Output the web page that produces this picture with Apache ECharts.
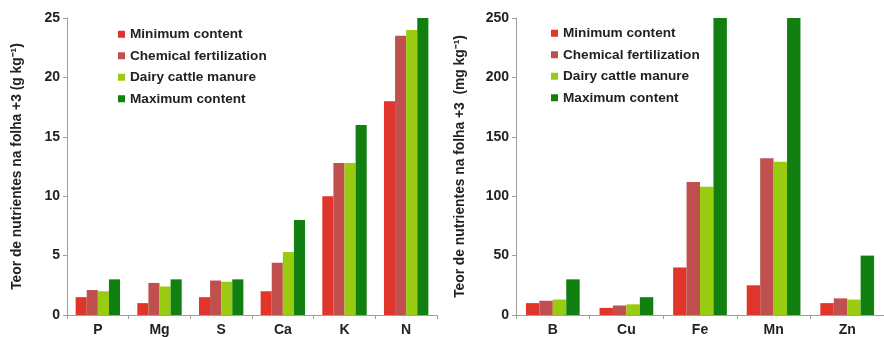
<!DOCTYPE html>
<html><head><meta charset="utf-8">
<script src="https://cdn.jsdelivr.net/npm/echarts@6/dist/echarts.min.js"></script>
<style>html,body{margin:0;padding:0;background:#fff}#c{width:884px;height:337px}</style>
</head><body><div id="c"></div>
<script>
var seriesNames = ['Minimum content','Chemical fertilization','Dairy cattle manure','Maximum content'];
var colors = ['#E0352A','#C0504D','#99CC11','#118011'];

var macroCats = ['P','Mg','S','Ca','K','N'];
var macroMin  = [1.5, 1.0, 1.5, 2.0, 10.0, 18.0];
var macroChem = [2.1, 2.7, 2.9, 4.4, 12.8, 23.5];
var macroDairy= [2.0, 2.4, 2.8, 5.3, 12.8, 24.0];
var macroMax  = [3.0, 3.0, 3.0, 8.0, 16.0, 25.0];

var microCats = ['B','Cu','Fe','Mn','Zn'];
var microMin  = [10, 6, 40, 25, 10];
var microChem = [12, 8, 112, 132, 14];
var microDairy= [13, 9, 108, 129, 13];
var microMax  = [30, 15, 250, 250, 50];

var FONT = 'Liberation Sans, Arial, sans-serif';
var axisColor = '#A0A0A0';
var txt = '#222';

function xAx(grid, cats){
  return {type:'category', gridIndex:grid, data:cats,
    axisLine:{lineStyle:{color:axisColor}},
    axisTick:{show:true, length:4, lineStyle:{color:axisColor}},
    axisLabel:{fontFamily:FONT, fontWeight:'bold', fontSize:14, color:txt, margin:8}};
}
function yAx(grid, max, interval, name, gap){
  return {type:'value', gridIndex:grid, min:0, max:max, interval:interval,
    name:name, nameLocation:'middle', nameGap:gap,
    nameTextStyle:{fontFamily:FONT, fontWeight:'bold', fontSize:13.8, color:txt},
    axisLine:{show:true, lineStyle:{color:axisColor}},
    axisTick:{show:true, length:4, lineStyle:{color:axisColor}},
    splitLine:{show:false},
    axisLabel:{fontFamily:FONT, fontWeight:'bold', fontSize:14, color:txt, margin:7}};
}
var leftData = [macroMin, macroChem, macroDairy, macroMax];
var rightData = [microMin, microChem, microDairy, microMax];
var series = [];
seriesNames.forEach(function(n,i){
  series.push({name:n, type:'bar', xAxisIndex:0, yAxisIndex:0, data:leftData[i],
    itemStyle:{color:colors[i]}, barGap:'0%', barCategoryGap:'28%'});
});
seriesNames.forEach(function(n,i){
  series.push({name:n, type:'bar', xAxisIndex:1, yAxisIndex:1, data:rightData[i],
    itemStyle:{color:colors[i]}, barGap:'0%', barCategoryGap:'27%'});
});
function legend(left, top){
  return {orient:'vertical', left:left, top:top, itemWidth:7, itemHeight:7, itemGap:7,
    icon:'rect', data:seriesNames,
    textStyle:{fontFamily:FONT, fontWeight:'bold', fontSize:13.6, color:txt, lineHeight:14.5}};
}
var chart = echarts.init(document.getElementById('c'));
chart.setOption({
  animation:false,
  grid:[{left:67, right:447, top:18, bottom:21},
        {left:516, right:-7, top:18, bottom:21}],
  legend:[legend(113,22), legend(546,21)],
  xAxis:[xAx(0, macroCats), xAx(1, microCats)],
  yAxis:[yAx(0, 25, 5, 'Teor de nutrientes na folha +3 (g kg\u207B\u00B9)', 43),
         yAx(1, 250, 50, 'Teor de nutrientes na folha +3  (mg kg\u207B\u00B9)', 49)],
  series:series
});
</script></body></html>
